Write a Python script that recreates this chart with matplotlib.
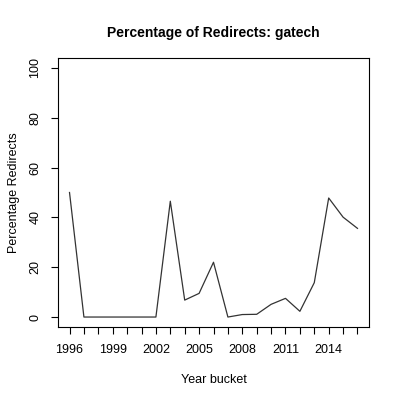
import matplotlib
matplotlib.use("Agg")
import matplotlib.pyplot as plt

years = list(range(1996, 2017))
pct_redirects = [50.0, 0, 0, 0, 0, 0, 0, 46.5, 6.8, 9.5, 22.0, 0, 1.0, 1.1,
                 5.1, 7.5, 2.3, 13.8, 47.8, 40.1, 35.6]
tick_labels = [str(y) if (y - 1996) % 3 == 0 else "" for y in years]

plt.rcParams['font.family'] = ['Liberation Sans', 'DejaVu Sans']

fig = plt.figure(figsize=(4, 4), dpi=100)
ax = fig.add_axes([0.145, 0.1825, 0.7775, 0.6725])
ax.plot(years, pct_redirects, color='#333333', linewidth=0.9)

ax.set_xlim(1995.2, 2016.8)
ax.set_ylim(-4, 104)
ax.set_xticks(years)
ax.set_xticklabels(tick_labels, fontsize=9)
ax.set_yticks([0, 20, 40, 60, 80, 100])
ax.set_yticklabels(['0', '20', '40', '60', '80', '100'], fontsize=9,
                   rotation=90, va='center')
ax.tick_params(direction='out', length=5, width=0.8, pad=7)

ax.set_title("Percentage of Redirects: gatech", fontsize=10, fontweight='bold', pad=15)
ax.set_xlabel("Year bucket", fontsize=9, labelpad=13)
ax.set_ylabel("Percentage Redirects", fontsize=9, labelpad=7)
for s in ax.spines.values():
    s.set_linewidth(0.8)

fig.savefig("out.png", dpi=100)
